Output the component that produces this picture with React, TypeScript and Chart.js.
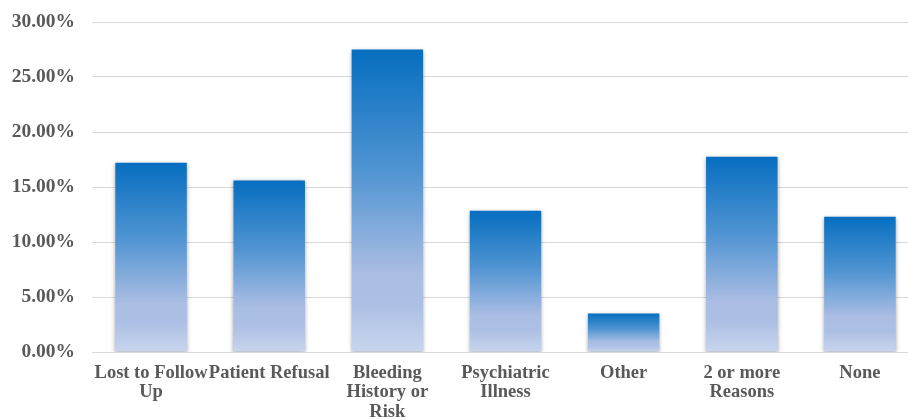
import React, { useEffect, useRef } from "react";
import { Chart, registerables } from "chart.js";

Chart.register(...registerables);

const categories: (string | string[])[] = [
  ["Lost to Follow", "Up"],
  "Patient Refusal",
  ["Bleeding", "History or", "Risk"],
  ["Psychiatric", "Illness"],
  "Other",
  ["2 or more", "Reasons"],
  "None",
];
const values = [17.2, 15.6, 27.5, 12.85, 3.5, 17.75, 12.3];
const yMin = 0;
const yMax = 30;
const yStep = 5;

const FONT = "'Times New Roman', 'Liberation Serif', serif";
const TEXT = "#595959";

const shadowPlugin = {
  id: "barShadow",
  beforeDatasetsDraw(chart: any) {
    const ctx = chart.ctx;
    ctx.save();
    ctx.shadowColor = "rgba(0,0,0,0.35)";
    ctx.shadowBlur = 4;
    ctx.shadowOffsetX = 0;
    ctx.shadowOffsetY = 1;
  },
  afterDatasetsDraw(chart: any) {
    chart.ctx.restore();
  },
};

export default function App() {
  const ref = useRef<HTMLCanvasElement | null>(null);
  useEffect(() => {
    if (!ref.current) return;
    const chart = new Chart(ref.current, {
      type: "bar",
      data: {
        labels: categories as any,
        datasets: [
          {
            data: values,
            categoryPercentage: 1,
            barPercentage: 0.605,
            borderWidth: 0,
            backgroundColor: (c: any) => {
              const ch = c.chart;
              const ys = ch.scales && ch.scales.y;
              if (!ys || c.type !== "data") return "#5b9bd5";
              const top = ys.getPixelForValue(c.raw);
              const base = ys.getPixelForValue(0);
              if (!isFinite(top) || !isFinite(base) || top === base) return "#5b9bd5";
              const g = ch.ctx.createLinearGradient(0, top, 0, base);
              g.addColorStop(0, "rgb(6,110,192)");
              g.addColorStop(0.4, "rgb(80,148,210)");
              g.addColorStop(0.74, "rgb(170,189,227)");
              g.addColorStop(0.84, "rgb(172,191,228)");
              g.addColorStop(1, "rgb(200,213,237)");
              return g;
            },
          },
        ],
      },
      options: {
        responsive: false,
        animation: false,
        layout: { padding: { top: 22, left: 0, right: 0, bottom: 0 } },
        plugins: { legend: { display: false }, tooltip: { enabled: false } },
        scales: {
          x: {
            grid: { display: false, drawTicks: false },
            border: { display: false },
            ticks: {
              autoSkip: false,
              maxRotation: 0,
              minRotation: 0,
              padding: 11,
              color: TEXT,
              font: { family: FONT, size: 18.5, weight: "bold", lineHeight: 1.07 },
            },
            afterFit: (s: any) => {
              s.height = 78;
            },
          },
          y: {
            min: yMin,
            max: yMax,
            grid: { color: "#d9d9d9", lineWidth: 1, drawTicks: false },
            border: { display: false },
            ticks: {
              stepSize: yStep,
              padding: 17,
              color: TEXT,
              font: { family: FONT, size: 19.5, weight: "bold" },
              callback: (v: any) => Number(v).toFixed(2) + "%",
            },
            afterFit: (s: any) => {
              s.width = 92;
              s.paddingTop = 0;
              s.paddingBottom = 0;
            },
          },
        },
      },
      plugins: [shadowPlugin],
    });
    return () => chart.destroy();
  }, []);
  return (
    <div
      style={{
        position: "fixed",
        left: 0,
        top: 0,
        width: 908,
        height: 419,
        overflow: "hidden",
        background: "#fff",
      }}
    >
      <canvas ref={ref} width={919} height={430} style={{ display: "block", width: 919, height: 430 }} />
    </div>
  );
}
